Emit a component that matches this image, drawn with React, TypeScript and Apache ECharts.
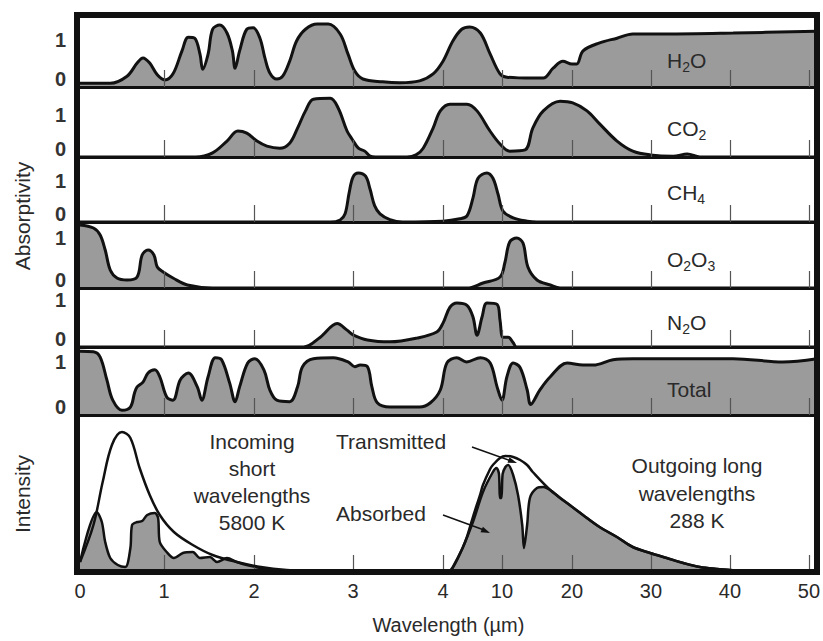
import React, { useEffect, useRef } from 'react';
import * as echarts from 'echarts';

// Broken wavelength axis: tick wavelengths (µm), their labels and their place along the axis
const TICK_UM = [0, 1, 2, 3, 4, 10, 20, 30, 40, 50];
const TICK_LABELS = ['0', '1', '2', '3', '4', '10', '20', '30', '40', '50'];
const TICK_POS = [0, 84, 174, 273, 363, 422, 492, 571, 650, 729];
const AXIS_END = 737;

// Absorptivity curves: [wavelength µm, absorptivity]
const H2O: number[][] = [
  [0, 0.08], [0.36, 0.08], [0.56, 0.23], [0.68, 0.51], [0.75, 0.62], [0.83, 0.51], [0.92, 0.26], [1.01, 0.15],
  [1.1, 0.28], [1.2, 0.77], [1.27, 1.06], [1.34, 1.04], [1.4, 0.7], [1.43, 0.38], [1.49, 0.7], [1.54, 1.23],
  [1.62, 1.32], [1.7, 1.15], [1.76, 0.77], [1.79, 0.4], [1.84, 0.77], [1.92, 1.23], [1.99, 1.26], [2.06, 1.04],
  [2.11, 0.62], [2.16, 0.3], [2.23, 0.17], [2.29, 0.23], [2.36, 0.55], [2.43, 0.98], [2.52, 1.23], [2.64, 1.34],
  [2.75, 1.34], [2.87, 1.13], [2.95, 0.7], [3.02, 0.34], [3.11, 0.17], [3.33, 0.11], [3.52, 0.09], [3.74, 0.13],
  [3.89, 0.28], [4.0, 0.55], [5.0, 0.98], [5.9, 1.23], [6.7, 1.28], [7.8, 1.15], [8.8, 0.7], [9.8, 0.28],
  [10.7, 0.21], [14.4, 0.19], [15.9, 0.19], [17.3, 0.4], [18.7, 0.55], [20, 0.49], [20.6, 0.49], [21.4, 0.77],
  [23.5, 0.94], [25.7, 1.04], [27.7, 1.13], [31.8, 1.13], [40.4, 1.15], [51, 1.19],
];
const CO2: number[][] = [
  [0, 0], [1.35, 0], [1.54, 0.1], [1.7, 0.38], [1.82, 0.62], [1.92, 0.57], [2.03, 0.38], [2.13, 0.26],
  [2.26, 0.21], [2.36, 0.33], [2.44, 0.69], [2.52, 1.1], [2.6, 1.38], [2.77, 1.4], [2.85, 1.17], [2.94, 0.62],
  [2.99, 0.43], [3.06, 0.21], [3.13, 0.14], [3.19, 0.02], [3.25, 0], [3.6, 0], [3.7, 0.05], [3.78, 0.21],
  [3.89, 0.69], [3.97, 1.1], [4.71, 1.26], [6.44, 1.26], [7.46, 1.1], [8.78, 0.62], [9.8, 0.31], [11.1, 0.14],
  [13.3, 0.17], [14.4, 0.69], [15.9, 1.1], [18.3, 1.33], [20.1, 1.29], [21.9, 1.1], [23.5, 0.79], [25.7, 0.38],
  [27.7, 0.14], [29.9, 0.05], [32.8, 0.02], [34.6, 0.07], [36.2, 0], [51, 0],
];
const CH4: number[][] = [
  [0, 0], [2.77, 0], [2.87, 0.05], [2.92, 0.2], [2.96, 0.7], [3.0, 1.1], [3.06, 1.2], [3.14, 1.12],
  [3.19, 0.8], [3.24, 0.4], [3.3, 0.2], [3.41, 0.06], [3.55, 0], [4.0, 0.02], [5.7, 0.08], [6.44, 0.15],
  [7.05, 0.59], [7.56, 1.07], [8.47, 1.2], [9.08, 1.07], [9.6, 0.68], [10.14, 0.27], [11.6, 0.1], [13.6, 0.02],
  [15, 0], [51, 0],
];
const O2O3: number[][] = [
  [0, 1.26], [0.16, 1.2], [0.24, 1.06], [0.3, 0.76], [0.36, 0.36], [0.44, 0.2], [0.56, 0.16], [0.68, 0.22],
  [0.74, 0.66], [0.81, 0.76], [0.88, 0.66], [0.92, 0.42], [0.99, 0.32], [1.1, 0.2], [1.26, 0.06], [1.54, 0],
  [6.44, 0], [8.07, 0.1], [9.8, 0.22], [10.4, 0.5], [11.1, 0.92], [12.1, 1.0], [13.0, 0.9], [13.7, 0.42],
  [15.0, 0.16], [16.9, 0.06], [18.3, 0], [51, 0],
];
const N2O: number[][] = [
  [0, 0], [2.5, 0], [2.67, 0.21], [2.84, 0.5], [2.94, 0.36], [3.0, 0.26], [3.16, 0.15], [3.41, 0.11],
  [3.71, 0.19], [3.93, 0.32], [4.0, 0.51], [4.71, 0.85], [5.42, 0.94], [6.44, 0.89], [7.05, 0.64], [7.46, 0.25],
  [7.97, 0.64], [8.47, 0.94], [9.5, 0.91], [9.8, 0.57], [10.14, 0.21], [10.9, 0.21], [11.6, 0.09], [12.1, 0],
  [51, 0],
];
const TOTAL: number[][] = [
  [0, 1.2], [0.16, 1.19], [0.24, 1.09], [0.32, 0.66], [0.39, 0.28], [0.5, 0.09], [0.6, 0.15], [0.65, 0.42],
  [0.68, 0.53], [0.75, 0.62], [0.81, 0.79], [0.89, 0.85], [0.95, 0.72], [1.03, 0.34], [1.1, 0.28], [1.18, 0.66],
  [1.27, 0.79], [1.37, 0.53], [1.42, 0.28], [1.49, 0.72], [1.57, 1.08], [1.64, 1.04], [1.73, 0.6], [1.79, 0.25],
  [1.84, 0.53], [1.93, 0.98], [2.01, 1.06], [2.1, 0.85], [2.16, 0.47], [2.23, 0.28], [2.36, 0.25], [2.44, 0.53],
  [2.49, 0.91], [2.6, 1.06], [2.8, 1.08], [2.95, 1.0], [3.02, 0.91], [3.08, 0.94], [3.16, 0.91], [3.21, 0.53],
  [3.27, 0.23], [3.41, 0.15], [3.74, 0.15], [3.86, 0.23], [3.97, 0.47], [4.4, 0.98], [5.4, 1.08], [6.4, 1.0],
  [7.8, 1.08], [8.8, 0.98], [9.5, 0.53], [10.0, 0.28], [10.7, 0.72], [11.6, 0.98], [12.6, 0.89], [13.6, 0.47],
  [14.1, 0.2], [15.4, 0.47], [16.9, 0.72], [19.3, 0.98], [21.4, 0.94], [22.7, 0.94], [25.2, 1.04], [27.7, 1.06],
  [40.4, 1.06], [46.7, 1.0], [51, 1.06],
];

// Intensity panel: [wavelength µm, relative intensity]
const SUN_BLACKBODY: number[][] = [
  [0, 0.1], [0.16, 0.47], [0.27, 0.9], [0.38, 1.27], [0.5, 1.4], [0.6, 1.34], [0.71, 1.04], [0.83, 0.77],
  [0.95, 0.57], [1.11, 0.4], [1.32, 0.27], [1.54, 0.17], [1.81, 0.1], [2.07, 0.05], [2.33, 0.02], [2.7, 0],
];
const SUN_ABSORBED: number[][] = [
  [0, 0.1], [0.2, 0.6], [0.26, 0.5], [0.3, 0.3], [0.36, 0.14], [0.45, 0.07], [0.54, 0.05], [0.6, 0.24],
  [0.62, 0.47], [0.68, 0.5], [0.74, 0.51], [0.8, 0.57], [0.89, 0.59], [0.93, 0.54], [0.95, 0.3], [1.03, 0.2],
  [1.11, 0.14], [1.21, 0.19], [1.32, 0.2], [1.4, 0.14], [1.51, 0.15], [1.59, 0.1], [1.7, 0.14], [1.81, 0.1],
  [1.92, 0.07], [2.07, 0.04], [2.21, 0.02], [2.35, 0],
];
const EARTH_BLACKBODY: number[][] = [
  [4.6, 0], [5.0, 0.05], [6.0, 0.24], [6.44, 0.35], [7.05, 0.55], [7.8, 0.78], [8.07, 0.87], [8.8, 1.03],
  [9.08, 1.07], [9.8, 1.14], [10.5, 1.16], [11.6, 1.15], [12.6, 1.12], [13.6, 1.07], [14.4, 1.0], [16.9, 0.82],
  [19.3, 0.69], [21.4, 0.57], [23.5, 0.45], [25.7, 0.35], [27.7, 0.25], [29.9, 0.19], [32.0, 0.14], [34.1, 0.09],
  [36.2, 0.05], [38.4, 0.03], [40, 0.02], [42, 0],
];
const EARTH_ABSORBED: number[][] = [
  [4.6, 0], [5.0, 0.04], [6.0, 0.24], [7.05, 0.5], [8.07, 0.8], [9.08, 1.0], [9.45, 1.04], [9.7, 0.98],
  [9.8, 0.74], [9.95, 0.74], [10.1, 0.98], [10.5, 1.05], [10.9, 1.07], [11.6, 0.97], [12.3, 0.77], [12.9, 0.47],
  [13.15, 0.24], [13.6, 0.47], [14.0, 0.74], [15.0, 0.84], [15.9, 0.85], [17.3, 0.8], [18.3, 0.74], [19.3, 0.69],
  [21.4, 0.57], [23.5, 0.45], [25.7, 0.35], [27.7, 0.25], [29.9, 0.19], [32.0, 0.14], [34.1, 0.09], [36.2, 0.05],
  [38.4, 0.03], [40, 0.02], [42, 0],
];

const PANEL_DATA = [H2O, CO2, CH4, O2O3, N2O, TOTAL];
const PANEL_LABELS = ['{n|H}{s|2}{n|O}', '{n|CO}{s|2}', '{n|CH}{s|4}', '{n|O}{s|2}{n|O}{s|3}', '{n|N}{s|2}{n|O}', '{n|Total}'];
const Y_TICK_VALUES = [0, 1];

function toPos(um: number): number {
  for (let i = 0; i < TICK_UM.length - 1; i++) {
    if (um <= TICK_UM[i + 1]) {
      const t = (um - TICK_UM[i]) / (TICK_UM[i + 1] - TICK_UM[i]);
      return TICK_POS[i] + t * (TICK_POS[i + 1] - TICK_POS[i]);
    }
  }
  const n = TICK_UM.length - 1;
  return TICK_POS[n] + ((um - TICK_UM[n]) * (TICK_POS[n] - TICK_POS[n - 1])) / (TICK_UM[n] - TICK_UM[n - 1]);
}
const mapData = (d: number[][]) => d.map(([u, v]) => [toPos(u), v]);

const FONT = '"Liberation Sans", Arial, Helvetica, sans-serif';
const INK = '#111';
const TEXT = '#2a2a2a';
const FILL = '#9b9b9b';

const GRID_TOP = [18, 87, 157, 222, 288, 347, 415];
const GRID_BOTTOM = [87, 157, 222, 288, 347, 415, 572];
const Y_MAX = [1.47, 1.67, 1.59, 1.32, 1.26, 1.28, 1.57];
const PLOT_LEFT = 80;

function buildOption() {
  const grid = GRID_TOP.map((t, i) => ({ left: PLOT_LEFT, width: AXIS_END, top: t, height: GRID_BOTTOM[i] - t }));
  const xAxis = GRID_TOP.map((_, i) => ({
    gridIndex: i,
    type: 'value',
    min: 0,
    max: AXIS_END,
    z: 3,
    axisLine: { show: i < 6, onZero: false, lineStyle: { color: INK, width: 3 } },
    axisTick: {
      show: true,
      inside: true,
      length: 17,
      customValues: TICK_POS.slice(1),
      lineStyle: { color: '#555', width: 1.2 },
    },
    axisLabel:
      i === 6
        ? {
            show: true,
            customValues: TICK_POS,
            formatter: (v: number) => {
              const k = TICK_POS.findIndex((p) => Math.abs(p - v) < 0.5);
              return k >= 0 ? TICK_LABELS[k] : '';
            },
            fontSize: 20,
            fontFamily: FONT,
            color: TEXT,
            margin: 9,
          }
        : { show: false },
    splitLine: { show: false },
    name: i === 6 ? 'Wavelength (µm)' : '',
    nameLocation: 'middle',
    nameGap: 43,
    nameTextStyle: { fontSize: 20, fontFamily: FONT, color: TEXT },
  }));
  const yAxis = GRID_TOP.map((_, i) => ({
    gridIndex: i,
    type: 'value',
    min: 0,
    max: Y_MAX[i],
    axisLine: { show: false },
    axisTick: { show: false },
    splitLine: { show: false },
    axisLabel:
      i < 6
        ? {
            show: true,
            customValues: Y_TICK_VALUES,
            formatter: (v: number) => (v === 0 ? '{b|0}' : '{t|1}'),
            margin: 14,
            rich: {
              b: { fontSize: 20, fontFamily: FONT, fontWeight: 'bold', color: '#333', padding: [0, 0, 16, 0] },
              t: { fontSize: 20, fontFamily: FONT, fontWeight: 'bold', color: '#333' },
            },
          }
        : { show: false },
  }));

  const series: any[] = PANEL_DATA.map((d, i) => ({
    type: 'line',
    xAxisIndex: i,
    yAxisIndex: i,
    data: mapData(d),
    smooth: 0.35,
    symbol: 'none',
    silent: true,
    lineStyle: { color: INK, width: 3 },
    areaStyle: { color: FILL, opacity: 1 },
    z: 2,
  }));
  const areaSeries = (d: number[][]) => ({
    type: 'line',
    xAxisIndex: 6,
    yAxisIndex: 6,
    data: mapData(d),
    smooth: 0.3,
    symbol: 'none',
    silent: true,
    lineStyle: { color: INK, width: 2.5 },
    areaStyle: { color: FILL, opacity: 1 },
    z: 2,
  });
  const lineSeries = (d: number[][]) => ({
    type: 'line',
    xAxisIndex: 6,
    yAxisIndex: 6,
    data: mapData(d),
    smooth: 0.35,
    symbol: 'none',
    silent: true,
    lineStyle: { color: INK, width: 2.5 },
    z: 4,
  });
  series.push(areaSeries(SUN_ABSORBED), areaSeries(EARTH_ABSORBED), lineSeries(SUN_BLACKBODY), lineSeries(EARTH_BLACKBODY));

  const richLabel = {
    n: { fontSize: 21, fontFamily: FONT, fill: TEXT, verticalAlign: 'top' },
    s: { fontSize: 14, fontFamily: FONT, fill: TEXT, verticalAlign: 'top', padding: [10, 0, 0, 0] },
  };
  const labelY = [62, 130, 194, 261, 324, 389];
  const txt = (text: string, x: number, y: number, align = 'center', extra: any = {}) => ({
    type: 'text',
    x,
    y,
    z: 20,
    style: { text, fill: TEXT, fontSize: 21, fontFamily: FONT, align, verticalAlign: 'middle', lineHeight: 27.3, ...extra },
  });

  const graphic: any[] = [
    {
      type: 'rect',
      z: 30,
      shape: { x: 77, y: 15, width: 740, height: 557 },
      style: { fill: 'none', stroke: INK, lineWidth: 6 },
    },
    ...PANEL_LABELS.map((t, i) => ({
      type: 'text',
      x: 667,
      y: labelY[i],
      z: 20,
      style: { text: t, rich: richLabel, align: 'left', verticalAlign: 'middle' },
    })),
    { ...txt('Absorptivity', 22, 216), rotation: Math.PI / 2 },
    { ...txt('Intensity', 22, 494), rotation: Math.PI / 2 },
    txt('Incoming\nshort\nwavelengths\n5800 K', 252, 482),
    txt('Outgoing long\nwavelengths\n288 K', 697, 493),
    txt('Transmitted', 336, 441, 'left'),
    txt('Absorbed', 336, 513, 'left'),
    { type: 'line', z: 20, shape: { x1: 443, y1: 515, x2: 484, y2: 530 }, style: { stroke: INK, lineWidth: 1.5 } },
    { type: 'polygon', z: 20, shape: { points: [[490, 533], [480.5, 532.3], [482.9, 526.7]] }, style: { fill: INK } },
    { type: 'line', z: 20, shape: { x1: 472, y1: 447, x2: 510, y2: 460.5 }, style: { stroke: INK, lineWidth: 1.5 } },
    { type: 'polygon', z: 20, shape: { points: [[517, 463], [507.5, 462.8], [509.5, 457.2]] }, style: { fill: INK } },
  ];

  return {
    animation: false,
    backgroundColor: '#fff',
    grid,
    xAxis,
    yAxis,
    series,
    graphic,
  };
}

export default function App() {
  const ref = useRef<HTMLDivElement>(null);
  useEffect(() => {
    if (!ref.current) return;
    const chart = echarts.init(ref.current, undefined, { renderer: 'svg' });
    chart.setOption(buildOption() as any);
    return () => chart.dispose();
  }, []);
  return (
    <div
      ref={ref}
      style={{ position: 'absolute', left: 0, top: 0, width: 823, height: 641, background: '#fff' }}
    />
  );
}
